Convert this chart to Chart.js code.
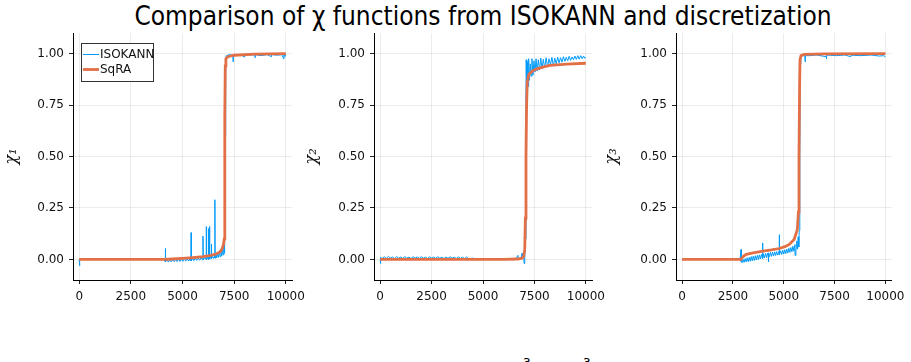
<!DOCTYPE html>
<html>
<head>
<meta charset="utf-8">
<script src="https://cdn.jsdelivr.net/npm/chart.js@4.4.1/dist/chart.umd.min.js"></script>
<style>
html,body{margin:0;padding:0;background:#fff;width:911px;height:362px;overflow:hidden;position:relative;font-family:"DejaVu Sans",sans-serif;}
canvas{position:absolute;left:0;top:0;}
#title{position:absolute;left:0;width:966px;top:0px;text-align:center;font-size:26px;line-height:32px;color:#000;font-family:"DejaVu Sans Condensed","DejaVu Sans",sans-serif;font-stretch:condensed;white-space:nowrap;}
.sup{position:absolute;top:357px;font-size:12px;line-height:12px;color:#000;}
</style>
</head>
<body>
<div id="title">Comparison of χ functions from ISOKANN and discretization</div>
<div class="sup" style="left:523px">3</div>
<div class="sup" style="left:583px">3</div>
<canvas id="c1" width="911" height="362"></canvas>
<canvas id="c2" width="911" height="362"></canvas>
<canvas id="c3" width="911" height="362"></canvas>
<script>
// ---- tick labels ----
const xTicks = [0, 2500, 5000, 7500, 10000];
const yTicks = [0, 0.25, 0.5, 0.75, 1.0];
const seriesNames = ["ISOKANN", "SqRA"];
const yLabels = ["χ₁", "χ₂", "χ₃"];

// ---- panel 1 (χ1): [x, y] ----
const iso1 = [[0,0],[15,-0.03],[30,0.0],[200,0.003],[400,0.0],[600,0.005],[620,0.0],[900,0.003],[1200,0.001],[1500,0.004],[1800,0.001],[2100,0.005],[2120,0.0],[2400,0.003],[2700,0.001],[3000,0.003],[3300,0.001],[3600,0.002],[3900,0.0],[4100,0.003],[4150,-0.01],[4165,0.005],[4170,0.053],[4180,-0.012],[4250,-0.002],[4320,-0.013],[4390,-0.001],[4460,-0.012],[4530,0.0],[4600,-0.011],[4670,0.0],[4740,-0.011],[4810,0.001],[4880,-0.01],[4950,0.002],[5020,-0.009],[5090,0.003],[5160,-0.008],[5230,0.003],[5300,-0.008],[5370,0.004],[5410,-0.007],[5420,0.13],[5430,-0.006],[5480,0.005],[5550,-0.006],[5620,0.006],[5690,-0.005],[5760,0.007],[5830,-0.004],[5900,0.008],[5970,-0.003],[5990,0.113],[6010,-0.002],[6080,0.009],[6140,-0.001],[6150,0.16],[6160,0.0],[6200,0.011],[6240,0.0],[6250,0.15],[6260,0.001],[6300,0.002],[6310,0.16],[6320,0.002],[6360,0.013],[6395,0.003],[6400,0.075],[6410,0.004],[6450,0.015],[6500,0.005],[6550,0.018],[6565,0.006],[6570,0.29],[6580,0.007],[6620,0.022],[6660,0.008],[6700,0.027],[6740,0.01],[6780,0.033],[6820,0.013],[6860,0.04],[6900,0.017],[6940,0.05],[6970,0.022],[7000,0.09],[7020,0.03],[7040,0.12],[7060,0.6],[7090,0.97],[7120,0.99],[7300,0.995],[7440,0.99],[7450,0.96],[7460,0.993],[7700,0.995],[7900,0.99],[8000,0.983],[8010,0.995],[8300,0.993],[8500,0.995],[8510,0.98],[8520,0.995],[8800,0.99],[9100,0.995],[9300,0.985],[9310,0.995],[9600,0.992],[9800,0.995],[9900,0.975],[9910,0.995],[9950,0.985],[9960,0.995],[10000,0.99]];
const sqra1 = [[0,0],[4150,0],[4500,0.002],[5000,0.005],[5500,0.009],[6000,0.014],[6300,0.018],[6600,0.025],[6800,0.035],[6900,0.048],[6980,0.07],[7020,0.1],[7040,0.3],[7055,0.7],[7070,0.94],[7100,0.975],[7200,0.985],[7500,0.992],[8500,0.997],[10000,1.0]];

// ---- panel 2 (χ2) ----
const iso2 = [[0,0],[15,-0.02],[30,0.01],[100,0.004],[200,0.013],[300,0.005],[400,0.015],[500,0.006],[600,0.012],[700,0.004],[800,0.014],[900,0.006],[1000,0.012],[1100,0.005],[1200,0.014],[1300,0.006],[1400,0.011],[1500,0.004],[1600,0.013],[1700,0.006],[1800,0.012],[1900,0.005],[2000,0.014],[2100,0.006],[2200,0.011],[2300,0.004],[2400,0.013],[2500,0.006],[2600,0.012],[2700,0.005],[2800,0.013],[2900,0.006],[3000,0.011],[3100,0.004],[3200,0.012],[3300,0.005],[3400,0.013],[3500,0.006],[3600,0.011],[3700,0.004],[3800,0.012],[3900,0.005],[4000,0.011],[4100,0.004],[4200,0.012],[4300,0.003],[4500,0.006],[4700,0.001],[4900,0.005],[5100,0.0],[5300,0.004],[5500,0.001],[5700,0.005],[5900,0.0],[6100,0.004],[6300,0.001],[6500,0.005],[6600,0.002],[6700,0.02],[6720,0.004],[6850,0.008],[6900,0.03],[6920,0.005],[6980,0.012],[7000,-0.02],[7030,0.01],[7060,0.1],[7090,0.8],[7100,0.97],[7130,0.80],[7160,0.96],[7190,0.84],[7220,0.975],[7260,0.87],[7300,0.95],[7340,0.89],[7380,0.975],[7430,0.895],[7480,0.965],[7530,0.91],[7580,0.975],[7630,0.915],[7690,0.97],[7750,0.92],[7810,0.978],[7870,0.925],[7930,0.972],[8000,0.93],[8070,0.98],[8140,0.935],[8210,0.975],[8280,0.945],[8350,0.982],[8420,0.94],[8490,0.978],[8560,0.95],[8630,0.983],[8700,0.955],[8770,0.98],[8840,0.958],[8910,0.985],[8980,0.962],[9050,0.982],[9120,0.965],[9190,0.987],[9260,0.967],[9330,0.984],[9400,0.97],[9470,0.988],[9540,0.972],[9610,0.99],[9680,0.973],[9750,0.99],[9820,0.975],[9890,0.988],[9950,0.977],[10000,0.982]];
const sqra2 = [[0,0],[6000,0],[6700,0.002],[6900,0.006],[6980,0.015],[7030,0.05],[7060,0.2],[7090,0.5],[7120,0.75],[7150,0.86],[7230,0.9],[7400,0.915],[7620,0.926],[8000,0.937],[8250,0.943],[9070,0.949],[10000,0.953]];

// ---- panel 3 (χ3) ----
const iso3 = [[0,0],[2300,0.0],[2350,0.005],[2450,0.0],[2550,0.006],[2650,0.001],[2750,0.006],[2850,0.002],[2900,0.048],[2910,-0.012],[2950,-0.016],[3000,0.0],[3050,-0.014],[3100,0.004],[3150,-0.012],[3200,0.008],[3250,-0.011],[3300,0.01],[3350,-0.009],[3400,0.014],[3450,-0.007],[3500,0.016],[3550,-0.005],[3600,0.018],[3650,-0.003],[3700,0.02],[3750,-0.001],[3800,0.022],[3850,0.002],[3900,0.024],[3950,0.004],[3960,0.08],[3970,0.005],[4000,0.027],[4050,0.007],[4100,0.029],[4150,0.009],[4200,0.031],[4240,0.011],[4250,-0.012],[4260,0.032],[4300,0.013],[4350,0.034],[4400,0.015],[4450,0.035],[4500,0.017],[4550,0.037],[4600,0.019],[4650,0.038],[4700,0.021],[4770,0.04],[4780,0.12],[4790,0.022],[4850,0.042],[4900,0.024],[4950,0.044],[5000,0.026],[5050,0.047],[5100,0.028],[5150,0.05],[5200,0.031],[5250,0.054],[5300,0.034],[5350,0.058],[5400,0.037],[5450,0.064],[5500,0.04],[5550,0.072],[5555,0.02],[5600,0.045],[5650,0.09],[5680,0.05],[5710,0.11],[5740,0.06],[5760,0.14],[5790,0.5],[5810,0.95],[5840,0.985],[5900,0.99],[6040,0.99],[6050,0.96],[6060,0.99],[6300,0.99],[6600,0.993],[7090,0.985],[7100,0.975],[7110,0.993],[7600,0.99],[8000,0.993],[8300,0.985],[8310,0.992],[8800,0.99],[9300,0.993],[9700,0.988],[9900,0.99],[10000,0.985]];
const sqra3 = [[0,0],[2900,0],[2950,0.008],[3050,0.018],[3160,0.025],[3500,0.032],[3970,0.04],[4400,0.046],[4780,0.053],[5050,0.062],[5270,0.073],[5510,0.097],[5620,0.13],[5670,0.146],[5720,0.23],[5750,0.5],[5780,0.85],[5800,0.97],[5850,0.99],[6000,0.996],[7000,0.999],[10000,1.0]];

const BLUE = "#009AFA", ORANGE = "#E26F46";
const TXT = "#111";
const FONT = "DejaVu Sans";
const GRID = "rgba(0,0,0,0.075)";

const legendPlugin = {
  id: "boxLegend",
  afterDraw(chart, args, opts) {
    if (!opts.show) return;
    const ctx = chart.ctx;
    const x0 = 81, y0 = 43, w = 72, h = 38;
    ctx.save();
    ctx.fillStyle = "#fff";
    ctx.fillRect(x0, y0, w, h);
    ctx.strokeStyle = "#333";
    ctx.lineWidth = 1;
    ctx.strokeRect(x0 + 0.5, y0 + 0.5, w, h);
    const items = chart.data.datasets.slice().sort((a, b) => a.legendIndex - b.legendIndex);
    items.forEach((ds, i) => {
      const yy = y0 + 11 + i * 15;
      ctx.strokeStyle = ds.borderColor;
      ctx.lineWidth = ds.borderWidth;
      ctx.beginPath();
      ctx.moveTo(x0 + 2, yy + 0.5);
      ctx.lineTo(x0 + 18, yy + 0.5);
      ctx.stroke();
      ctx.fillStyle = TXT;
      ctx.font = "12px " + FONT;
      ctx.textBaseline = "middle";
      ctx.fillText(ds.label, x0 + 19, yy + 1);
    });
    ctx.restore();
  }
};

function toXY(arr) { return arr.map(p => ({ x: p[0], y: p[1] })); }

function makePanel(id, iso, sq, yLabel, padLeft, yw, plotRight, showLegend) {
  new Chart(document.getElementById(id), {
    type: "line",
    data: {
      datasets: [
        { label: seriesNames[1], data: toXY(sq), borderColor: ORANGE, borderWidth: 2.8, pointRadius: 0, tension: 0, order: 0, legendIndex: 1 },
        { label: seriesNames[0], data: toXY(iso), borderColor: BLUE, borderWidth: 1, pointRadius: 0, tension: 0, order: 1, legendIndex: 0 }
      ]
    },
    options: {
      responsive: false,
      animation: false,
      devicePixelRatio: 1,
      layout: { padding: { left: padLeft, right: 911 - plotRight, top: 33, bottom: 0 } },
      plugins: { legend: { display: false }, tooltip: { enabled: false }, title: { display: false }, boxLegend: { show: showLegend } },
      scales: {
        x: {
          type: "linear", min: -300, max: 10300,
          afterBuildTicks: s => { s.ticks = xTicks.map(v => ({ value: v })); },
          afterFit: s => { s.height = 82; },
          ticks: { callback: v => String(v), color: TXT, font: { family: FONT, size: 12 }, maxRotation: 0, autoSkip: false, padding: 6 },
          grid: { color: GRID, lineWidth: 1, tickLength: 4, tickColor: "#222" },
          border: { color: "#000", width: 1 }
        },
        y: {
          type: "linear", min: -0.1, max: 1.1,
          afterBuildTicks: s => { s.ticks = yTicks.map(v => ({ value: v })); },
          afterFit: s => { s.width = yw; },
          ticks: { callback: v => v.toFixed(2), color: TXT, font: { family: FONT, size: 12 }, padding: 5 },
          grid: { color: GRID, lineWidth: 1, tickLength: 4, tickColor: "#222" },
          border: { color: "#000", width: 1 },
          title: { display: true, text: yLabel, color: TXT, font: { family: "DejaVu Serif", size: 16, style: "italic" }, padding: { top: 2, bottom: 0 } }
        }
      }
    },
    plugins: [legendPlugin]
  });
}

makePanel("c1", iso1, sqra1, yLabels[0], 0, 73, 292, true);
makePanel("c2", iso2, sqra2, yLabels[1], 300, 74, 592, false);
makePanel("c3", iso3, sqra3, yLabels[2], 600, 76, 893, false);
</script>
</body>
</html>
